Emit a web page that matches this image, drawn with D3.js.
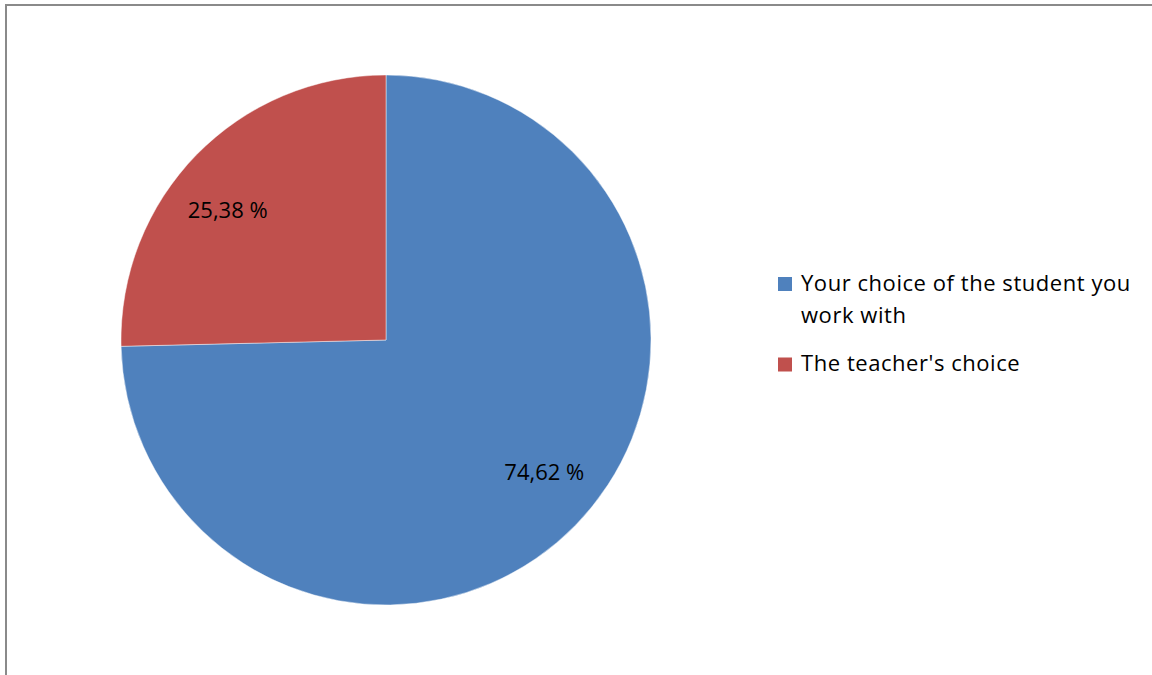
<!DOCTYPE html>
<html>
<head>
<meta charset="utf-8">
<script src="https://cdn.jsdelivr.net/npm/d3@7"></script>
<style>
  html, body { margin: 0; padding: 0; background: #fff; }
  svg { display: block; }
  text { font-family: "Open Sans", Lato, sans-serif; fill: #000; }
</style>
</head>
<body>
<svg id="chart" width="1152" height="675"></svg>
<script>
// Survey answers: who chooses the partner you work with
const categories = ["Your choice of the student you work with", "The teacher's choice"];
const shares = [74.62, 25.38];
const shareLabels = ["74,62 %", "25,38 %"];
const legendLines = [["Your choice of the student you", "work with"], ["The teacher's choice"]];
const colors = ["#4F81BD", "#C0504D"];

const W = 1152, H = 675;
const svg = d3.select("#chart");

// outer chart frame (runs off the right and bottom edges)
svg.append("rect")
  .attr("x", 6).attr("y", 5)
  .attr("width", W + 20).attr("height", H + 20)
  .attr("fill", "none")
  .attr("stroke", "#8a8a8a")
  .attr("stroke-width", 2);

const cx = 386, cy = 340, R = 265;

const pie = d3.pie().sort(null).value(d => d);
const arcs = pie(shares);
const arc = d3.arc().innerRadius(0).outerRadius(R);

const g = svg.append("g").attr("transform", `translate(${cx},${cy})`);

g.selectAll("path.slice")
  .data(arcs)
  .join("path")
  .attr("class", "slice")
  .attr("d", arc)
  .attr("fill", (d, i) => colors[i])
  .attr("stroke", "rgba(255,255,255,0.45)")
  .attr("stroke-width", 1);

// value labels placed inside each slice along its bisector
g.selectAll("text.val")
  .data(arcs)
  .join("text")
  .attr("class", "val")
  .attr("x", d => Math.sin((d.startAngle + d.endAngle) / 2) * R * 0.835)
  .attr("y", d => -Math.cos((d.startAngle + d.endAngle) / 2) * R * 0.705)
  .attr("text-anchor", "middle")
  .attr("dominant-baseline", "central")
  .attr("font-size", 22)
  .text((d, i) => shareLabels[i]);

// legend
const legend = svg.append("g").attr("transform", "translate(778,277)");
const rowY = [0, 80.5];
categories.forEach((c, i) => {
  const row = legend.append("g").attr("transform", `translate(0,${rowY[i]})`);
  row.append("rect")
    .attr("width", 14).attr("height", 14)
    .attr("fill", colors[i]);
  legendLines[i].forEach((line, j) => {
    row.append("text")
      .attr("x", 23)
      .attr("y", 13.5 + j * 32.5)
      .attr("font-size", 22)
      .attr("letter-spacing", 0.55)
      .text(line);
  });
});
</script>
</body>
</html>
